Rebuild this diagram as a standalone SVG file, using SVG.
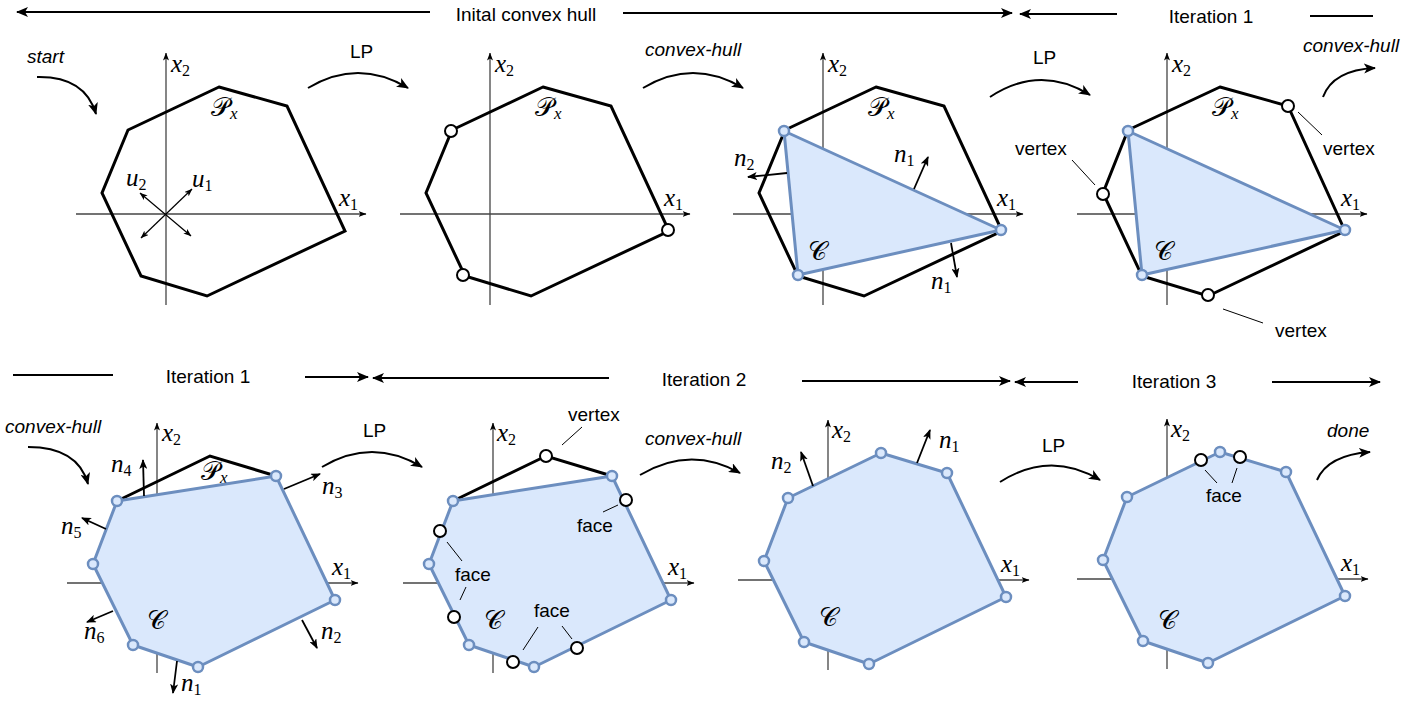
<svg xmlns="http://www.w3.org/2000/svg" width="1410" height="706" viewBox="0 0 1410 706">
<defs>
<style>
.ax{stroke:#444;stroke-width:1.3;fill:none;marker-end:url(#axm)}
.px{stroke:#000;stroke-width:3;fill:none;stroke-linejoin:miter}
.c{fill:#dae8fc;stroke:#6c8ebf;stroke-width:3;stroke-linejoin:round}
.vb{fill:#dae8fc;stroke:#6c8ebf;stroke-width:2.5}
.vw{fill:#fff;stroke:#000;stroke-width:2}
.nv{stroke:#000;stroke-width:1.8;fill:none;marker-end:url(#an)}
.uv{stroke:#000;stroke-width:1.2;fill:none;marker-end:url(#axm);marker-start:url(#axm)}
.ld{stroke:#000;stroke-width:1;fill:none}
.hd{stroke:#000;stroke-width:2;fill:none}
.ha{stroke:#000;stroke-width:2;fill:none;marker-end:url(#ah)}
.fl{stroke:#000;stroke-width:2;fill:none;marker-end:url(#ah)}
.t{font-family:"Liberation Sans",Arial,sans-serif;font-size:19px;fill:#000}
.ti{font-style:italic}
.m{font-family:"Liberation Serif","Times New Roman",serif;font-style:italic;font-size:25px;fill:#000}
.cal{font-family:"DejaVu Serif","DejaVu Sans","Noto Sans",serif;font-style:normal;font-size:26px;font-weight:normal}
.s{font-size:16px;font-style:normal}
.sx{font-size:17px;font-style:italic}
</style>
<marker id="ah" viewBox="0 0 12 10" refX="11" refY="5" markerWidth="12" markerHeight="10" markerUnits="userSpaceOnUse" orient="auto-start-reverse"><path d="M0,0 L12,5 L0,10 L3,5 z" fill="#000"/></marker>
<marker id="an" viewBox="0 0 10 8" refX="9" refY="4" markerWidth="10" markerHeight="8" markerUnits="userSpaceOnUse" orient="auto-start-reverse"><path d="M0,0 L10,4 L0,8 L2.5,4 z" fill="#000"/></marker>
<marker id="axm" viewBox="0 0 8 6" refX="7.5" refY="3" markerWidth="8" markerHeight="6" markerUnits="userSpaceOnUse" orient="auto-start-reverse"><path d="M0,0 L8,3 L0,6 L2,3 z" fill="#000"/></marker>
</defs>
<rect width="1410" height="706" fill="#fff"/>

<g id="headers">
<line class="ha" x1="430" y1="12" x2="17" y2="12"/>
<text class="t" x="526" y="21" text-anchor="middle">Inital convex hull</text>
<line class="ha" x1="623" y1="13" x2="1012" y2="13"/>
<line class="ha" x1="1117" y1="14" x2="1020" y2="14"/>
<text class="t" x="1211" y="23" text-anchor="middle">Iteration 1</text>
<line class="hd" x1="1310" y1="16" x2="1373" y2="16"/>
<line class="hd" x1="13" y1="375" x2="113" y2="375"/>
<text class="t" x="208" y="383" text-anchor="middle">Iteration 1</text>
<line class="ha" x1="305" y1="377" x2="368" y2="377"/>
<line class="ha" x1="609" y1="378" x2="373" y2="378"/>
<text class="t" x="704" y="386" text-anchor="middle">Iteration 2</text>
<line class="ha" x1="802" y1="381" x2="1010" y2="381"/>
<line class="ha" x1="1078" y1="382" x2="1015" y2="382"/>
<text class="t" x="1174" y="388" text-anchor="middle">Iteration 3</text>
<line class="ha" x1="1272" y1="382" x2="1380" y2="382"/>
</g>

<g id="connectors">
<path class="fl" d="M37,77 Q85,76 96,114"/>
<text class="t ti" x="27" y="63">start</text>
<path class="fl" d="M308,88 Q358,58 408,88"/>
<text class="t" x="350" y="58">LP</text>
<path class="fl" d="M643,88 Q693,58 743,88"/>
<text class="t ti" x="645" y="56">convex-hull</text>
<path class="fl" d="M990,97 Q1040,64 1090,95"/>
<text class="t" x="1033" y="64">LP</text>
<path class="fl" d="M1323,97 Q1333,70 1375,68"/>
<text class="t ti" x="1303" y="52">convex-hull</text>
<path class="fl" d="M28,447 Q78,447 88,484"/>
<text class="t ti" x="5" y="433">convex-hull</text>
<path class="fl" d="M322,467 Q372,437 422,467"/>
<text class="t" x="363" y="437">LP</text>
<path class="fl" d="M640,475 Q690,445 740,473"/>
<text class="t ti" x="645" y="445">convex-hull</text>
<path class="fl" d="M1000,482 Q1050,450 1100,480"/>
<text class="t" x="1042" y="452">LP</text>
<path class="fl" d="M1317,480 Q1328,455 1370,452"/>
<text class="t ti" x="1327" y="437">done</text>
</g>

<g id="panel-top-1">
<line class="ax" x1="166" y1="305" x2="166" y2="53"/>
<line class="ax" x1="76" y1="214" x2="366" y2="214"/>
<polygon class="px" points="219,87 287,106 345,231 207,296 141,276 102,193 128,130"/>
<line class="uv" x1="141" y1="238" x2="192" y2="189"/>
<line class="uv" x1="191" y1="236" x2="140" y2="193"/>
<text class="m" x="171" y="72">x<tspan class="s" dy="4">2</tspan></text>
<text class="m" x="339" y="206">x<tspan class="s" dy="4">1</tspan></text>
<text class="m" x="211" y="116"><tspan class="cal">𝒫</tspan><tspan class="sx" dy="3">x</tspan></text>
<text class="m" x="126" y="186">u<tspan class="s" dy="4">2</tspan></text>
<text class="m" x="192" y="187">u<tspan class="s" dy="4">1</tspan></text>
</g>

<g id="panel-top-2">
<line class="ax" x1="490" y1="305" x2="490" y2="53"/>
<line class="ax" x1="400" y1="214" x2="690" y2="214"/>
<polygon class="px" points="543,87 611,106 669,231 531,296 465,276 426,193 452,130"/>
<circle class="vw" cx="451" cy="131" r="6"/>
<circle class="vw" cx="668" cy="230" r="6"/>
<circle class="vw" cx="463" cy="275" r="6"/>
<text class="m" x="495" y="72">x<tspan class="s" dy="4">2</tspan></text>
<text class="m" x="664" y="206">x<tspan class="s" dy="4">1</tspan></text>
<text class="m" x="535" y="116"><tspan class="cal">𝒫</tspan><tspan class="sx" dy="3">x</tspan></text>
</g>

<g id="panel-top-3">
<line class="ax" x1="823" y1="305" x2="823" y2="53"/>
<line class="ax" x1="733" y1="214" x2="1023" y2="214"/>
<polygon class="px" points="876,87 944,106 1002,231 864,296 798,276 759,193 785,130"/>
<polygon class="c" points="784,131 1001,230 798,275"/>
<circle class="vb" cx="784" cy="131" r="5"/>
<circle class="vb" cx="1001" cy="230" r="5"/>
<circle class="vb" cx="798" cy="275" r="5"/>
<line class="nv" x1="914" y1="189" x2="928" y2="157"/>
<line class="nv" x1="787" y1="173" x2="748" y2="177"/>
<line class="nv" x1="951" y1="243" x2="957" y2="277"/>
<text class="m" x="894" y="162">n<tspan class="s" dy="4">1</tspan></text>
<text class="m" x="734" y="166">n<tspan class="s" dy="4">2</tspan></text>
<text class="m" x="931" y="289">n<tspan class="s" dy="4">1</tspan></text>
<text class="m" x="828" y="72">x<tspan class="s" dy="4">2</tspan></text>
<text class="m" x="997" y="206">x<tspan class="s" dy="4">1</tspan></text>
<text class="m" x="868" y="116"><tspan class="cal">𝒫</tspan><tspan class="sx" dy="3">x</tspan></text>
<text class="m" x="808" y="260"><tspan class="cal">𝒞</tspan></text>
</g>

<g id="panel-top-4">
<line class="ax" x1="1167" y1="305" x2="1167" y2="53"/>
<line class="ax" x1="1077" y1="214" x2="1367" y2="214"/>
<polygon class="px" points="1220,87 1288,106 1345,231 1208,296 1142,276 1103,193 1128,130"/>
<polygon class="c" points="1128,131 1345,230 1142,275"/>
<circle class="vb" cx="1128" cy="131" r="5"/>
<circle class="vb" cx="1345" cy="230" r="5"/>
<circle class="vb" cx="1142" cy="275" r="5"/>
<circle class="vw" cx="1288" cy="106" r="6"/>
<circle class="vw" cx="1103" cy="194" r="6"/>
<circle class="vw" cx="1208" cy="295" r="6"/>
<line class="ld" x1="1298" y1="112" x2="1322" y2="135"/>
<line class="ld" x1="1072" y1="160" x2="1095" y2="185"/>
<line class="ld" x1="1223" y1="309" x2="1263" y2="323"/>
<text class="t" x="1323" y="155">vertex</text>
<text class="t" x="1015" y="155">vertex</text>
<text class="t" x="1275" y="337">vertex</text>
<text class="m" x="1172" y="72">x<tspan class="s" dy="4">2</tspan></text>
<text class="m" x="1341" y="206">x<tspan class="s" dy="4">1</tspan></text>
<text class="m" x="1212" y="116"><tspan class="cal">𝒫</tspan><tspan class="sx" dy="3">x</tspan></text>
<text class="m" x="1154" y="260"><tspan class="cal">𝒞</tspan></text>
</g>

<g id="panel-bottom-1">
<line class="ax" x1="157" y1="673" x2="157" y2="423"/>
<line class="ax" x1="67" y1="583" x2="358" y2="583"/>
<text class="m" x="201" y="480"><tspan class="cal">𝒫</tspan><tspan class="sx" dy="3">x</tspan></text>
<polyline class="px" points="117,501 210,456 276,476"/>
<polygon class="c" points="117,501 276,476 335,600 198,667 133,645 93,564"/>
<line class="nv" x1="144" y1="496" x2="143" y2="460"/>
<line class="nv" x1="284" y1="489" x2="320" y2="474"/>
<line class="nv" x1="106" y1="529" x2="82" y2="518"/>
<line class="nv" x1="113" y1="611" x2="87" y2="622"/>
<line class="nv" x1="302" y1="620" x2="317" y2="648"/>
<line class="nv" x1="177" y1="661" x2="173" y2="693"/>
<circle class="vb" cx="117" cy="501" r="5"/>
<circle class="vb" cx="276" cy="476" r="5"/>
<circle class="vb" cx="335" cy="600" r="5"/>
<circle class="vb" cx="198" cy="667" r="5"/>
<circle class="vb" cx="133" cy="645" r="5"/>
<circle class="vb" cx="93" cy="564" r="5"/>
<text class="m" x="111" y="472">n<tspan class="s" dy="4">4</tspan></text>
<text class="m" x="322" y="494">n<tspan class="s" dy="4">3</tspan></text>
<text class="m" x="61" y="534">n<tspan class="s" dy="4">5</tspan></text>
<text class="m" x="84" y="639">n<tspan class="s" dy="4">6</tspan></text>
<text class="m" x="321" y="639">n<tspan class="s" dy="4">2</tspan></text>
<text class="m" x="181" y="691">n<tspan class="s" dy="4">1</tspan></text>
<text class="m" x="162" y="441">x<tspan class="s" dy="4">2</tspan></text>
<text class="m" x="332" y="575">x<tspan class="s" dy="4">1</tspan></text>
<text class="m" x="147" y="629"><tspan class="cal">𝒞</tspan></text>
</g>

<g id="panel-bottom-2">
<line class="ax" x1="493" y1="673" x2="493" y2="423"/>
<line class="ax" x1="403" y1="583" x2="694" y2="583"/>
<polyline class="px" points="453,501 546,456 612,476"/>
<polygon class="c" points="453,501 612,476 671,600 534,667 469,645 429,564"/>
<circle class="vb" cx="453" cy="501" r="5"/>
<circle class="vb" cx="612" cy="476" r="5"/>
<circle class="vb" cx="671" cy="600" r="5"/>
<circle class="vb" cx="534" cy="667" r="5"/>
<circle class="vb" cx="469" cy="645" r="5"/>
<circle class="vb" cx="429" cy="564" r="5"/>
<circle class="vw" cx="546" cy="456" r="6"/>
<circle class="vw" cx="626" cy="500" r="6"/>
<circle class="vw" cx="440" cy="531" r="6"/>
<circle class="vw" cx="454" cy="617" r="6"/>
<circle class="vw" cx="513" cy="662" r="6"/>
<circle class="vw" cx="577" cy="648" r="6"/>
<line class="ld" x1="562" y1="445" x2="582" y2="427"/>
<line class="ld" x1="603" y1="512" x2="618" y2="505"/>
<line class="ld" x1="447" y1="542" x2="462" y2="561"/>
<line class="ld" x1="460" y1="600" x2="466" y2="587"/>
<line class="ld" x1="523" y1="650" x2="538" y2="627"/>
<line class="ld" x1="562" y1="626" x2="572" y2="639"/>
<text class="t" x="568" y="421">vertex</text>
<text class="t" x="577" y="532">face</text>
<text class="t" x="455" y="581">face</text>
<text class="t" x="534" y="617">face</text>
<text class="m" x="497" y="441">x<tspan class="s" dy="4">2</tspan></text>
<text class="m" x="668" y="575">x<tspan class="s" dy="4">1</tspan></text>
<text class="m" x="484" y="629"><tspan class="cal">𝒞</tspan></text>
</g>

<g id="panel-bottom-3">
<line class="ax" x1="828" y1="670" x2="828" y2="420"/>
<line class="ax" x1="738" y1="580" x2="1029" y2="580"/>
<polygon class="c" points="788,498 881,453 947,473 1006,597 869,664 804,642 764,561"/>
<line class="nv" x1="813" y1="486" x2="801" y2="452"/>
<line class="nv" x1="917" y1="463" x2="930" y2="430"/>
<circle class="vb" cx="788" cy="498" r="5"/>
<circle class="vb" cx="881" cy="453" r="5"/>
<circle class="vb" cx="947" cy="473" r="5"/>
<circle class="vb" cx="1006" cy="597" r="5"/>
<circle class="vb" cx="869" cy="664" r="5"/>
<circle class="vb" cx="804" cy="642" r="5"/>
<circle class="vb" cx="764" cy="561" r="5"/>
<text class="m" x="771" y="469">n<tspan class="s" dy="4">2</tspan></text>
<text class="m" x="939" y="448">n<tspan class="s" dy="4">1</tspan></text>
<text class="m" x="832" y="438">x<tspan class="s" dy="4">2</tspan></text>
<text class="m" x="1001" y="572">x<tspan class="s" dy="4">1</tspan></text>
<text class="m" x="819" y="626"><tspan class="cal">𝒞</tspan></text>
</g>

<g id="panel-bottom-4">
<line class="ax" x1="1167" y1="669" x2="1167" y2="419"/>
<line class="ax" x1="1077" y1="579" x2="1368" y2="579"/>
<polygon class="c" points="1127,497 1220,452 1286,472 1345,596 1208,663 1143,641 1103,560"/>
<circle class="vb" cx="1127" cy="497" r="5"/>
<circle class="vb" cx="1220" cy="452" r="5"/>
<circle class="vb" cx="1286" cy="472" r="5"/>
<circle class="vb" cx="1345" cy="596" r="5"/>
<circle class="vb" cx="1208" cy="663" r="5"/>
<circle class="vb" cx="1143" cy="641" r="5"/>
<circle class="vb" cx="1103" cy="560" r="5"/>
<circle class="vw" cx="1201" cy="460" r="6"/>
<circle class="vw" cx="1240" cy="457" r="6"/>
<line class="ld" x1="1205" y1="470" x2="1217" y2="483"/>
<line class="ld" x1="1237" y1="468" x2="1232" y2="483"/>
<text class="t" x="1206" y="502">face</text>
<text class="m" x="1171" y="437">x<tspan class="s" dy="4">2</tspan></text>
<text class="m" x="1341" y="571">x<tspan class="s" dy="4">1</tspan></text>
<text class="m" x="1158" y="629"><tspan class="cal">𝒞</tspan></text>
</g>
</svg>
